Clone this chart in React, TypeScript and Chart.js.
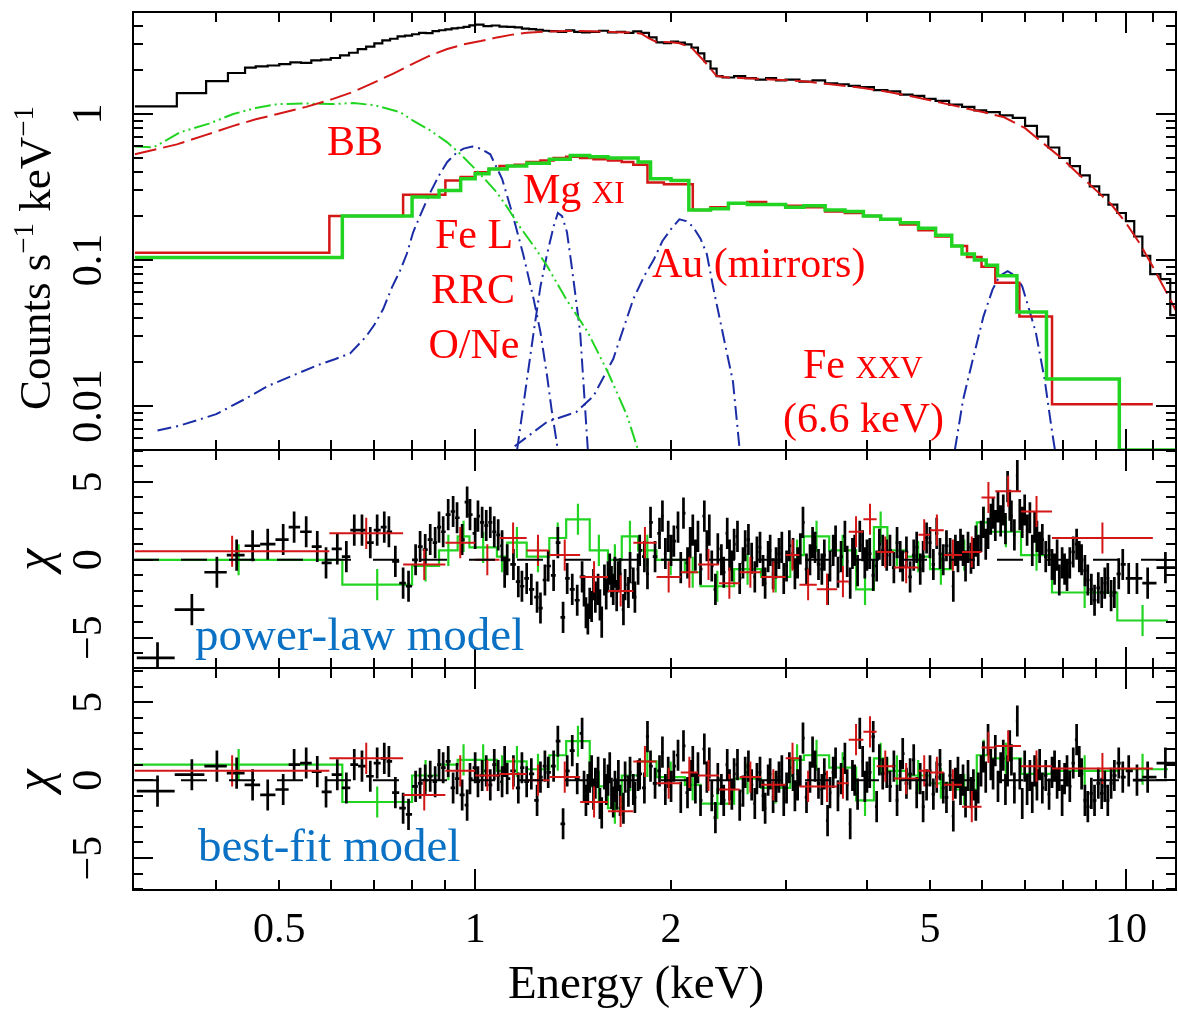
import React, { useEffect, useRef } from "react";
import { Chart, registerables } from "chart.js";

Chart.register(...registerables);

// ---------------- axis ranges ----------------
const energyRange = [0.298, 11.94];
const countsRange = [0.005, 5];
const chiRangePL = [-6.95, 7.05];
const chiRangeBest = [-7.05, 7.2];

// ---------------- tick labels ----------------
const xTickLabels = [0.5, 1, 2, 5, 10];
const xMajorTicks = [1, 10];
const xMinorTicks = [0.4, 0.5, 0.6, 0.7, 0.8, 0.9, 2, 3, 4, 5, 6, 7, 8, 9, 11];
const countsTickLabels = ["0.01", "0.1", "1"];
const chiTickLabels = [-5, 0, 5];

// ---------------- top panel: spectra (keV, counts/s/keV) ----------------
// black spectrum: [bin lower edge, counts]
const blackSpectrum: [number, number][] = [
  [0.30, 1.13], [0.348, 1.39], [0.386, 1.68], [0.417, 1.91], [0.443, 2.08], [0.46, 2.12], [0.48, 2.15], [0.50, 2.2],
  [0.52, 2.26], [0.54, 2.24], [0.56, 2.33], [0.58, 2.36], [0.60, 2.42], [0.62, 2.52], [0.64, 2.63], [0.66, 2.78],
  [0.68, 2.9], [0.70, 3.05], [0.72, 3.2], [0.74, 3.28], [0.76, 3.4], [0.78, 3.45], [0.80, 3.52], [0.82, 3.6],
  [0.84, 3.58], [0.86, 3.7], [0.88, 3.75], [0.90, 3.8], [0.92, 3.86], [0.94, 3.9], [0.96, 3.95], [0.98, 4.05],
  [1.00, 4.1], [1.03, 4.0], [1.06, 4.04], [1.09, 3.97], [1.12, 3.95], [1.15, 3.92], [1.18, 3.85], [1.21, 3.82],
  [1.24, 3.78], [1.27, 3.72], [1.30, 3.7], [1.34, 3.66], [1.38, 3.74], [1.42, 3.66], [1.46, 3.62], [1.50, 3.66],
  [1.55, 3.72], [1.60, 3.62], [1.65, 3.66], [1.70, 3.6], [1.75, 3.68], [1.80, 3.6], [1.85, 3.35], [1.90, 3.1],
  [1.95, 3.06], [2.00, 3.14], [2.05, 3.08], [2.10, 3.0], [2.15, 2.85], [2.20, 2.6], [2.25, 2.3], [2.30, 2.05],
  [2.35, 1.82], [2.40, 1.78], [2.50, 1.82], [2.60, 1.76], [2.70, 1.72], [2.80, 1.76], [2.90, 1.7], [3.00, 1.72],
  [3.15, 1.67], [3.30, 1.7], [3.45, 1.62], [3.60, 1.6], [3.75, 1.56], [3.90, 1.53], [4.10, 1.46], [4.30, 1.43],
  [4.50, 1.36], [4.70, 1.33], [4.90, 1.27], [5.10, 1.23], [5.35, 1.16], [5.60, 1.12], [5.85, 1.06], [6.10, 1.03],
  [6.40, 0.98], [6.70, 0.94], [7.00, 0.83], [7.30, 0.7], [7.60, 0.59], [7.90, 0.5], [8.20, 0.44], [8.50, 0.38],
  [8.80, 0.32], [9.10, 0.28], [9.40, 0.24], [9.70, 0.21], [10.0, 0.185], [10.3, 0.145], [10.6, 0.107], [10.9, 0.08],
  [11.3, 0.074], [11.7, 0.042],
];

// red long-dashed model
const redModel: [number, number][] = [
  [0.30, 0.53], [0.348, 0.62], [0.386, 0.72], [0.425, 0.83], [0.46, 0.92], [0.497, 1.0], [0.55, 1.12], [0.605, 1.27],
  [0.65, 1.42], [0.70, 1.65], [0.75, 1.9], [0.80, 2.2], [0.85, 2.5], [0.906, 2.79], [0.96, 3.0], [1.02, 3.16],
  [1.08, 3.35], [1.14, 3.5], [1.2, 3.6], [1.29, 3.68], [1.38, 3.7], [1.45, 3.7], [1.55, 3.68], [1.65, 3.64],
  [1.75, 3.62], [1.8, 3.55], [1.85, 3.3], [1.9, 3.12], [2.0, 3.1], [2.06, 3.05], [2.15, 2.85], [2.25, 2.3],
  [2.35, 1.82], [2.45, 1.78], [2.6, 1.76], [2.9, 1.72], [3.2, 1.68], [3.6, 1.58], [3.9, 1.52], [4.3, 1.42],
  [4.7, 1.32], [5.1, 1.22], [5.6, 1.11], [6.1, 1.02], [6.5, 0.95], [7.0, 0.8], [7.5, 0.62], [8.0, 0.49],
  [8.5, 0.38], [9.0, 0.3], [9.5, 0.24], [10.0, 0.18], [10.5, 0.13], [11.0, 0.09], [11.5, 0.062], [11.94, 0.045],
];

// green BB component
const greenBB: [number, number][] = [
  [0.30, 0.60], [0.32, 0.59], [0.335, 0.66], [0.352, 0.75], [0.39, 0.86], [0.425, 1.0], [0.46, 1.1], [0.497, 1.17],
  [0.55, 1.18], [0.60, 1.17], [0.65, 1.19], [0.70, 1.15], [0.767, 1.03], [0.803, 0.9], [0.85, 0.78], [0.906, 0.64],
  [0.95, 0.53], [0.99, 0.44], [1.04, 0.35], [1.08, 0.29], [1.12, 0.23], [1.17, 0.17], [1.23, 0.125], [1.29, 0.091],
  [1.38, 0.054], [1.49, 0.032], [1.60, 0.017], [1.71, 0.0087], [1.78, 0.005],
];

// lower spectra (second & third instruments): bin edges and counts
const redSpecEdges = [0.3, 0.597, 0.775, 0.90, 0.95, 1.0, 1.05, 1.09, 1.15, 1.2, 1.26, 1.32, 1.38, 1.45, 1.52, 1.6, 1.68, 1.75, 1.84, 1.95, 2.05, 2.16, 2.3, 2.45, 2.62, 2.8, 3.0, 3.2, 3.45, 3.7, 3.95, 4.2, 4.5, 4.8, 5.1, 5.4, 5.7, 6.0, 6.3, 6.86, 7.7, 11.0];
const redSpecCounts = [0.112, 0.2, 0.28, 0.35, 0.37, 0.40, 0.42, 0.44, 0.45, 0.47, 0.48, 0.5, 0.51, 0.5, 0.49, 0.48, 0.47, 0.45, 0.34, 0.33, 0.33, 0.22, 0.23, 0.245, 0.25, 0.24, 0.235, 0.23, 0.215, 0.21, 0.2, 0.19, 0.175, 0.16, 0.145, 0.125, 0.105, 0.09, 0.07, 0.041, 0.0103];
const greenSpecEdges = [0.3, 0.625, 0.8, 0.88, 0.95, 1.0, 1.05, 1.12, 1.2, 1.3, 1.4, 1.5, 1.6, 1.7, 1.78, 1.86, 2.0, 2.13, 2.3, 2.45, 2.62, 2.8, 3.0, 3.2, 3.45, 3.7, 3.95, 4.2, 4.5, 4.8, 5.1, 5.4, 5.6, 5.85, 6.1, 6.35, 6.8, 7.55, 9.77, 11.94];
const greenSpecCounts = [0.104, 0.2, 0.27, 0.3, 0.36, 0.39, 0.42, 0.44, 0.46, 0.49, 0.52, 0.51, 0.5, 0.5, 0.47, 0.36, 0.35, 0.22, 0.225, 0.245, 0.24, 0.24, 0.23, 0.235, 0.22, 0.215, 0.2, 0.19, 0.18, 0.165, 0.148, 0.125, 0.11, 0.1, 0.092, 0.078, 0.044, 0.0153, 0.005];

// blue Gaussian / RRC line components
const blueFeL: [number, number][] = [
  [0.325, 0.0068], [0.35, 0.0073], [0.40, 0.0088], [0.44, 0.011], [0.48, 0.0137], [0.53, 0.0165], [0.572, 0.019],
  [0.61, 0.021], [0.643, 0.023], [0.68, 0.03], [0.70, 0.036], [0.722, 0.046], [0.745, 0.065], [0.767, 0.085],
  [0.785, 0.11], [0.803, 0.155], [0.83, 0.22], [0.853, 0.29], [0.88, 0.38], [0.906, 0.47], [0.935, 0.54], [0.96, 0.58],
  [0.99, 0.6], [1.02, 0.58], [1.055, 0.53], [1.10, 0.36], [1.14, 0.21], [1.185, 0.11], [1.23, 0.054], [1.26, 0.032],
  [1.29, 0.016], [1.31, 0.0096], [1.34, 0.005],
];
const blueMgXI: [number, number][] = [
  [1.16, 0.005], [1.2, 0.0147], [1.23, 0.032], [1.26, 0.066], [1.29, 0.11], [1.32, 0.17], [1.34, 0.21], [1.36, 0.2],
  [1.384, 0.155], [1.41, 0.085], [1.45, 0.032], [1.49, 0.005],
];
const blueAu: [number, number][] = [
  [1.15, 0.0053], [1.29, 0.0078], [1.43, 0.0091], [1.52, 0.0117], [1.6, 0.018], [1.63, 0.021], [1.69, 0.034],
  [1.75, 0.054], [1.82, 0.078], [1.88, 0.10], [1.94, 0.135], [2.0, 0.163], [2.06, 0.19], [2.11, 0.185], [2.16, 0.17],
  [2.22, 0.14], [2.27, 0.11], [2.32, 0.066], [2.40, 0.032], [2.49, 0.0147], [2.55, 0.005],
];
const blueFeXXV: [number, number][] = [
  [5.46, 0.005], [5.62, 0.011], [5.82, 0.021], [6.04, 0.041], [6.24, 0.063], [6.4, 0.078], [6.58, 0.084], [6.77, 0.078],
  [6.93, 0.066], [7.1, 0.046], [7.27, 0.032], [7.5, 0.0153], [7.7, 0.0067], [7.78, 0.005],
];

// ---------------- residuals ----------------
// black: [E, chi (power-law), chi (best-fit)]
const blackResSoft: [number, number, number][] = [
  [0.325, -6.3, -0.7], [0.367, -3.2, 0.35], [0.401, -0.8, 0.9], [0.43, 0.3, 0.45], [0.455, 0.9, -0.3], [0.48, 1.0, -0.95],
  [0.507, 1.3, -0.6], [0.527, 2.1, 1.0], [0.55, 1.8, 1.1], [0.572, 0.85, 0.55], [0.59, -0.2, -0.75], [0.614, 0.7, 0.35],
  [0.634, 0.2, -0.5], [0.652, 1.9, 1.0], [0.67, 1.9, 0.9], [0.69, 1.1, 0.25], [0.707, 1.9, 1.1], [0.725, 2.1, 1.4],
  [0.737, 1.8, 1.2], [0.754, -0.1, -0.8], [0.775, -1.5, -1.8], [0.79, -1.7, -2.2], [0.81, 0.0, -0.4], [0.823, 0.85, -0.2],
  [0.838, 0.65, 0.0], [0.853, 1.3, 0.25], [0.868, 1.1, -0.1], [0.88, 2.1, 1.0], [0.893, 1.8, 0.8], [0.909, 2.9, 1.2],
  [0.925, 3.1, -0.5], [0.938, 2.7, 0.1], [0.955, 1.3, -0.95], [0.972, 3.7, -1.6], [0.982, 2.9, 0.1],
];
const blackResMid: [number, number, number][] = [
  [1.0, 1.7, 0.8], [1.01, 2.8, -0.1], [1.025, 2.4, 0.3], [1.04, 2.2, 0.6], [1.055, 2.4, -0.3], [1.07, 1.8, 1.0],
  [1.085, 1.6, 0.3], [1.1, 0.9, -0.1], [1.11, -0.8, 1.2], [1.12, 0.0, 0.1], [1.145, -0.3, 0.6], [1.165, -1.4, -0.5],
  [1.18, -1.7, 0.8], [1.2, -1.2, -0.1], [1.22, -1.9, 0.4], [1.245, -2.4, -1.3], [1.26, -3.1, 0.2], [1.28, -1.3, 0.9],
  [1.295, -0.4, 0.5], [1.32, -1.0, 0.9], [1.34, 1.1, 2.5], [1.365, -3.7, -2.8], [1.385, -1.2, 0.6], [1.41, -1.9, 1.9],
  [1.435, -2.6, 0.1], [1.46, -1.1, 3.0], [1.47, -2.0, -0.4], [1.48, -3.4, -1.3], [1.49, -3.8, -0.6], [1.5, -2.8, 0.2],
  [1.51, -3.0, 0.6], [1.52, -1.6, -0.9], [1.53, -2.4, -0.2], [1.545, -1.9, 0.5], [1.555, -2.9, -1.5], [1.565, -4.0, -2.1],
  [1.58, -1.3, 0.4], [1.59, -2.2, -0.6], [1.6, -1.1, 0.0], [1.61, -0.6, 0.8], [1.62, -1.4, -0.85], [1.63, -1.9, -1.4],
  [1.64, -0.8, -0.4], [1.65, -2.3, -0.9], [1.66, -1.1, 0.3], [1.67, -0.9, -1.3], [1.69, -3.2, -1.8], [1.70, -1.6, 0.2],
  [1.72, -2.1, -0.7], [1.73, -0.5, 0.5], [1.75, -1.5, -0.6], [1.76, -2.4, -1.1], [1.78, -0.6, 0.3],
];
const blackResHard: [number, number, number][] = [
  [1.79, 0.6, 0.4], [1.82, 0.2, -0.5], [1.84, -0.9, 2.8], [1.86, 2.4, 0.9], [1.89, 0.2, -0.2], [1.92, 1.7, 0.6],
  [1.94, 2.8, 1.8], [1.96, 0.4, -0.6], [1.98, 1.5, 0.5], [2.0, 0.6, -0.4], [2.02, 1.2, 0.9], [2.05, 2.1, 1.6],
  [2.07, -0.5, -1.1], [2.09, 3.0, 2.2], [2.12, -0.2, -0.8], [2.14, 1.1, 0.3], [2.16, 1.9, 1.2], [2.18, 0.3, -0.5],
  [2.2, 1.5, 0.8], [2.22, -0.6, -1.3], [2.25, 2.8, 2.0], [2.27, 0.9, 0.2], [2.29, 1.9, 1.1], [2.31, -0.4, -1.0],
  [2.34, -1.9, -2.4], [2.36, 0.7, 0.1], [2.39, 0.0, -0.6], [2.41, -0.8, -1.3], [2.44, 1.7, 1.0], [2.46, 0.3, -0.3],
  [2.48, -0.4, -0.9], [2.5, 1.0, 0.4], [2.53, 1.5, 1.0], [2.55, -1.2, -1.6], [2.58, -0.2, -0.7], [2.6, 0.9, 0.5],
  [2.63, 1.3, 0.9], [2.66, 0.1, -0.3], [2.69, -1.1, -1.5], [2.71, 0.5, 0.1], [2.74, 0.8, 0.5], [2.77, -0.7, -1.0],
  [2.79, -1.5, -1.8], [2.82, 0.2, 0.0], [2.84, 0.6, 0.4], [2.87, -0.9, -1.1], [2.9, -0.2, -0.4], [2.93, 0.4, 0.2],
  [2.96, 0.8, 0.6], [2.98, -1.2, -1.3], [3.01, -0.4, -0.5], [3.04, 0.9, 0.8], [3.08, 0.4, 0.3], [3.1, -0.9, -1.0],
  [3.13, -0.2, -0.3], [3.16, 0.7, 0.6], [3.19, 2.4, 2.7], [3.23, -0.6, -1.1], [3.27, 0.0, 0.2], [3.3, 1.1, 1.8],
  [3.33, 0.8, 0.9], [3.37, -0.3, -0.2], [3.41, -0.6, -0.6], [3.44, 0.3, 0.4], [3.48, -1.9, -2.6], [3.51, -0.4, -0.8],
  [3.55, 0.6, 0.5], [3.58, 1.2, 1.1], [3.61, -0.8, -1.0], [3.65, 0.2, 0.1], [3.7, 1.5, 1.4], [3.73, -0.1, -0.3],
  [3.77, -1.5, -2.8], [3.8, 0.4, 0.3], [3.83, 0.6, 0.0], [3.87, -0.7, -0.9], [3.9, 1.5, 3.0], [3.94, 0.9, 1.2],
  [3.97, -0.2, -0.4], [4.0, 0.3, 0.2], [4.04, 0.4, 0.5], [4.09, -1.0, 2.8], [4.14, -0.4, -1.7], [4.18, 1.0, 1.3],
  [4.23, 0.6, 0.4],
];
const blackResFe: [number, number, number][] = [
  [4.29, 0.3, 0.5], [4.34, 0.6, -0.4], [4.4, -0.5, 0.9], [4.45, 1.1, -1.3], [4.5, 0.2, 0.3], [4.54, -0.4, 1.7],
  [4.6, 0.5, -0.2], [4.66, -1.1, 0.4], [4.72, 0.3, 1.3], [4.77, 0.8, -0.8], [4.83, -0.6, 0.1], [4.88, 0.2, -1.7],
  [4.94, 1.4, -0.3], [5.0, 1.1, 0.6], [5.06, -0.3, -0.9], [5.12, 1.7, 0.2], [5.18, 0.4, 1.0], [5.24, 0.0, -0.5],
  [5.3, 0.9, -1.1], [5.37, 0.4, 0.3], [5.43, -1.7, -2.3], [5.47, 0.6, -0.2], [5.52, 0.2, 0.5], [5.57, 1.0, -0.6],
  [5.62, 0.6, 0.0], [5.67, -0.4, -1.4], [5.72, 0.8, 0.3], [5.78, 0.1, -0.8], [5.83, 0.4, -0.3], [5.88, 1.2, -1.6],
  [5.93, 0.6, -0.5], [5.99, 1.5, 0.6], [6.04, 2.4, 1.5], [6.09, 1.0, 0.2], [6.14, 1.7, 2.6], [6.2, 2.6, 1.0],
  [6.25, 3.0, 0.4], [6.3, 2.2, 1.9], [6.36, 3.4, -0.4], [6.42, 2.5, 0.8], [6.48, 3.2, 1.6], [6.53, 2.0, -0.6],
  [6.58, 4.7, 0.6], [6.63, 3.5, 2.2], [6.67, 2.8, 1.3], [6.74, 1.6, -0.5], [6.81, 5.4, 3.8], [6.87, 2.9, 0.4],
  [6.93, 2.4, -1.5], [6.99, 3.2, 0.9], [7.05, 1.9, -0.6], [7.12, 2.7, 0.3], [7.18, 0.6, -1.1], [7.24, 2.1, 0.6],
  [7.3, 1.5, -0.3], [7.37, 0.8, 1.0], [7.44, 1.3, -0.5], [7.53, 0.2, 0.3], [7.62, 0.6, -0.9], [7.7, -0.3, 0.5],
  [7.77, -0.6, 0.9], [7.84, 0.3, -0.2], [7.9, -1.3, 0.3], [7.98, -0.2, -1.3], [8.05, -0.6, 0.1], [8.12, -1.0, 0.6],
  [8.2, -0.2, -0.4], [8.3, 0.5, 1.1], [8.4, 1.0, 2.6], [8.48, 0.2, 1.2], [8.55, 0.0, 0.4], [8.65, -0.7, -1.3],
  [8.74, -1.3, -1.7], [8.85, -1.9, -0.85], [8.95, -2.6, -1.3], [9.07, -1.8, -0.2], [9.18, -2.1, -0.85], [9.28, -1.5, -0.4],
  [9.38, -1.2, -1.3], [9.49, -2.3, -0.2], [9.6, -2.1, 0.3], [9.75, -0.9, 1.1], [9.89, -0.3, 0.2], [10.1, -1.2, 0.6],
  [10.4, -1.2, 0.0], [10.8, -1.5, 0.2], [11.5, -0.5, 1.1],
];
const blackFirstBinLow = 0.302;

// red & green residuals: contiguous bins
const redResEdges = [0.30, 0.597, 0.775, 0.90, 1.0, 1.09, 1.2, 1.3, 1.45, 1.6, 1.75, 1.9, 2.07, 2.2, 2.37, 2.55, 2.75, 3.0, 3.15, 3.35, 3.6, 3.75, 3.95, 4.14, 4.4, 4.8, 5.0, 5.25, 5.6, 6.0, 6.3, 6.9, 7.7, 11.0];
const redChiPL = [0.55, 1.7, -0.3, 1.1, 0.0, 1.4, 0.6, 0.3, -1.1, -2.0, 1.1, -1.1, -0.8, -0.3, -1.5, -0.8, -1.1, 0.3, -1.6, -1.9, -1.4, 1.8, 2.6, 0.5, -0.5, 1.6, 1.9, 0.3, 0.5, 4.0, 4.4, 3.1, 1.4];
const redChiBest = [0.6, 1.4, -0.95, 0.6, 0.3, 0.4, 0.0, 0.2, -1.4, -2.0, 1.2, -0.2, 0.5, 0.3, -0.6, 0.2, -0.3, 1.4, -0.4, -0.4, -0.2, 2.6, 3.1, 0.9, 0.1, 0.6, 0.5, -0.3, -1.7, 2.1, 2.2, 0.9, 0.75];
const greenResEdges = [0.30, 0.625, 0.8, 0.88, 0.94, 0.98, 1.08, 1.12, 1.2, 1.3, 1.38, 1.5, 1.6, 1.68, 1.78, 1.9, 2.1, 2.22, 2.5, 2.75, 3.05, 3.2, 3.5, 3.85, 4.1, 4.3, 4.6, 5.0, 5.4, 5.9, 6.2, 6.9, 7.7, 9.7, 11.6];
const greenChiPL = [0.0, -1.6, -0.4, 0.6, 1.5, 0.8, 0.2, 1.1, 0.2, 1.4, 2.6, 0.6, 0.0, 1.5, 0.6, 0.0, -0.8, -1.7, -0.6, -1.1, 0.3, 1.5, 0.6, -1.9, 2.1, 0.6, 0.2, -0.6, 0.3, 2.4, 1.8, 0.3, -2.1, -3.9];
const greenChiBest = [1.0, -1.4, 0.3, 1.0, 1.3, 1.3, 0.6, 1.2, 0.7, 1.6, 2.5, -0.4, -1.8, 0.3, 1.2, 0.2, -0.3, -1.5, 0.1, -0.5, 1.3, 1.6, 0.8, -1.3, 1.4, 0.6, 0.3, -0.2, -0.6, 1.6, 1.4, 0.4, 0.6, 0.7];
const chiError = 1;

// ---------------- styling ----------------
const SERIF = '"Liberation Serif", "Times New Roman", serif';
const RED = "#d31616";
const GREEN = "#22d422";
const BLUE = "#1b2da6";
const TEXT_RED = "#ff0000";
const TEXT_BLUE = "#0a71c4";

// ---------------- helpers to build line data ----------------
type P = { x: number; y: number };
const GAP: P = { x: NaN, y: NaN };

function stepsFromEdges(edges: number[], vals: number[]): P[] {
  const out: P[] = [];
  for (let i = 0; i < vals.length; i++) {
    out.push({ x: edges[i], y: vals[i] }, { x: edges[i + 1], y: vals[i] });
  }
  return out;
}
function stepsFromRows(rows: [number, number][], end: number): P[] {
  return stepsFromEdges(rows.map((r) => r[0]).concat([end]), rows.map((r) => r[1]));
}
function curve(rows: [number, number][]): P[] {
  return rows.map(([x, y]) => ({ x, y }));
}
function binErrorBars(edges: number[], vals: number[]): P[] {
  const out: P[] = [];
  for (let i = 0; i < vals.length; i++) {
    const c = Math.sqrt(edges[i] * edges[i + 1]);
    out.push({ x: c, y: vals[i] - chiError }, { x: c, y: vals[i] + chiError }, GAP);
  }
  return out;
}
function binCrosses(edges: number[], vals: number[]): P[] {
  const out: P[] = [];
  for (let i = 0; i < vals.length; i++) {
    const c = Math.sqrt(edges[i] * edges[i + 1]);
    out.push({ x: edges[i], y: vals[i] }, { x: edges[i + 1], y: vals[i] }, GAP);
    out.push({ x: c, y: vals[i] - chiError }, { x: c, y: vals[i] + chiError }, GAP);
  }
  return out;
}
function crosses(rows: [number, number, number][], col: 1 | 2, lo0: number, hiN: number): P[] {
  const out: P[] = [];
  for (let i = 0; i < rows.length; i++) {
    const e = rows[i][0];
    const v = rows[i][col];
    const lo = i === 0 ? lo0 : Math.sqrt(rows[i - 1][0] * e);
    const hi = i === rows.length - 1 ? hiN : Math.sqrt(e * rows[i + 1][0]);
    out.push({ x: lo, y: v }, { x: hi, y: v }, GAP, { x: e, y: v - chiError }, { x: e, y: v + chiError }, GAP);
  }
  return out;
}

function ds(data: P[], yAxisID: string, color: string, width: number, order: number, dash: number[] = []) {
  return {
    data,
    yAxisID,
    xAxisID: "x",
    borderColor: color,
    backgroundColor: color,
    borderWidth: width,
    borderDash: dash,
    borderCapStyle: "butt",
    borderJoinStyle: "miter",
    pointRadius: 0,
    pointHoverRadius: 0,
    fill: false,
    tension: 0,
    spanGaps: false,
    order,
    clip: 0,
  };
}

type Part = { t: string; size: number; dy: number; style?: string };
function drawRich(ctx: CanvasRenderingContext2D, parts: Part[], x: number, y: number, align: "left" | "center") {
  let total = 0;
  for (const p of parts) {
    ctx.font = `${p.style || ""} ${p.size}px ${SERIF}`;
    total += ctx.measureText(p.t).width;
  }
  let cx = align === "center" ? x - total / 2 : x;
  ctx.textAlign = "left";
  ctx.textBaseline = "alphabetic";
  for (const p of parts) {
    ctx.font = `${p.style || ""} ${p.size}px ${SERIF}`;
    ctx.fillText(p.t, cx, y + p.dy);
    cx += ctx.measureText(p.t).width;
  }
}

const decorPlugin = {
  id: "decor",
  afterDatasetsDraw(chart: any) {
    const ctx: CanvasRenderingContext2D = chart.ctx;
    const xs = chart.scales.x;
    const yT = chart.scales.yTop;
    const yM = chart.scales.yMid;
    const yB = chart.scales.yBot;
    const L = xs.left;
    const R = xs.right;
    ctx.save();
    ctx.strokeStyle = "#000";
    ctx.lineWidth = 2;
    ctx.lineCap = "butt";
    const seg = (x1: number, y1: number, x2: number, y2: number) => {
      ctx.beginPath();
      ctx.moveTo(x1, y1);
      ctx.lineTo(x2, y2);
      ctx.stroke();
    };
    const allX = xMajorTicks.concat(xMinorTicks);
    for (const s of [yT, yM, yB]) {
      ctx.strokeRect(L, s.top, R - L, s.bottom - s.top);
      for (const v of allX) {
        const px = Math.round(xs.getPixelForValue(v));
        const len = xMajorTicks.includes(v) ? 21 : 10;
        seg(px, s.top, px, s.top + len);
        seg(px, s.bottom, px, s.bottom - len);
      }
    }
    // top panel y ticks
    for (const d of [0.001, 0.01, 0.1, 1]) {
      for (let k = 1; k <= 9; k++) {
        const v = d * k;
        if (v <= countsRange[0] * 1.0001 || v >= countsRange[1] * 0.9999) continue;
        const py = Math.round(yT.getPixelForValue(v));
        const len = k === 1 ? 20 : 10;
        seg(L, py, L + len, py);
        seg(R, py, R - len, py);
      }
    }
    // residual y ticks
    for (const s of [yM, yB]) {
      for (let v = -7; v <= 7; v++) {
        if (v <= s.min || v >= s.max) continue;
        const py = Math.round(s.getPixelForValue(v));
        const len = v % 5 === 0 ? 20 : 10;
        seg(L, py, L + len, py);
        seg(R, py, R - len, py);
      }
    }
    ctx.restore();
  },
  afterDraw(chart: any) {
    const ctx: CanvasRenderingContext2D = chart.ctx;
    const xs = chart.scales.x;
    const yT = chart.scales.yTop;
    const yM = chart.scales.yMid;
    const yB = chart.scales.yBot;
    ctx.save();
    ctx.fillStyle = "#000";
    // x tick labels
    ctx.font = `42px ${SERIF}`;
    ctx.textAlign = "center";
    ctx.textBaseline = "alphabetic";
    for (const v of xTickLabels) ctx.fillText(String(v), xs.getPixelForValue(v), 942);
    ctx.font = `47px ${SERIF}`;
    ctx.fillText("Energy (keV)", 636, 998);

    const rotText = (parts: Part[], x: number, y: number) => {
      ctx.save();
      ctx.translate(x, y);
      ctx.rotate(-Math.PI / 2);
      drawRich(ctx, parts, 0, 0, "center");
      ctx.restore();
    };
    for (const t of countsTickLabels) rotText([{ t, size: 42, dy: 0 }], 101, yT.getPixelForValue(parseFloat(t)));
    for (const s of [yM, yB]) {
      for (const v of chiTickLabels) rotText([{ t: v < 0 ? "\u2212" + Math.abs(v) : String(v), size: 42, dy: 0 }], 101, s.getPixelForValue(v));
      rotText([{ t: "\u03c7", size: 50, dy: 0, style: "italic" }], 50, s.getPixelForValue(0));
    }
    rotText(
      [
        { t: "Counts s", size: 45, dy: 0 },
        { t: "\u22121", size: 29, dy: -17 },
        { t: " keV", size: 45, dy: 0 },
        { t: "\u22121", size: 29, dy: -17 },
      ],
      50,
      258
    );

    // annotations
    ctx.fillStyle = TEXT_RED;
    ctx.textAlign = "center";
    ctx.font = `42px ${SERIF}`;
    ctx.fillText("BB", 355, 155);
    ctx.fillText("Fe L", 474, 248);
    ctx.fillText("RRC", 473, 303);
    ctx.fillText("O/Ne", 474, 358);
    drawRich(ctx, [{ t: "Mg ", size: 42, dy: 0 }, { t: "XI", size: 31, dy: 0 }], 523, 203, "left");
    drawRich(ctx, [{ t: "Au (mirrors)", size: 42, dy: 0 }], 652, 277, "left");
    drawRich(ctx, [{ t: "Fe ", size: 42, dy: 0 }, { t: "XXV", size: 31, dy: 0 }], 803, 378, "left");
    drawRich(ctx, [{ t: "(6.6 keV)", size: 42, dy: 0 }], 783, 432, "left");

    ctx.fillStyle = TEXT_BLUE;
    drawRich(ctx, [{ t: "power-law model", size: 47, dy: 0 }], 195, 650, "left");
    drawRich(ctx, [{ t: "best-fit model", size: 47, dy: 0 }], 198, 861, "left");
    ctx.restore();
  },
};

export default function App() {
  const ref = useRef<HTMLCanvasElement>(null);
  useEffect(() => {
    const canvas = ref.current;
    if (!canvas) return;
    const blackRes = blackResSoft.concat(blackResMid, blackResHard, blackResFe);
    const zero: P[] = [{ x: energyRange[0], y: 0 }, { x: energyRange[1], y: 0 }];
    const datasets: any[] = [
      // top panel
      ds(curve(redModel), "yTop", RED, 2, 1, [22, 7]),
      ds(stepsFromRows(blackSpectrum, energyRange[1]), "yTop", "#000", 2.2, 2),
      ds(curve(greenBB), "yTop", GREEN, 2, 3, [16, 4, 2, 4, 2, 4]),
      ds(stepsFromEdges(greenSpecEdges, greenSpecCounts), "yTop", GREEN, 3.5, 4),
      ds(stepsFromEdges(redSpecEdges, redSpecCounts), "yTop", RED, 2.5, 5),
      ds(curve(blueFeL), "yTop", BLUE, 2, 6, [14, 5, 2, 5]),
      ds(curve(blueMgXI), "yTop", BLUE, 2, 6, [14, 5, 2, 5]),
      ds(curve(blueAu), "yTop", BLUE, 2, 6, [14, 5, 2, 5]),
      ds(curve(blueFeXXV), "yTop", BLUE, 2, 6, [14, 5, 2, 5]),
      // middle panel (power-law)
      ds(zero, "yMid", "#000", 2, 0, [26, 22]),
      ds(binCrosses(redResEdges, redChiPL), "yMid", RED, 2, 1),
      ds(crosses(blackRes, 1, blackFirstBinLow, energyRange[1]), "yMid", "#000", 2.7, 2),
      ds(stepsFromEdges(greenResEdges, greenChiPL), "yMid", GREEN, 2.2, 3),
      ds(binErrorBars(greenResEdges, greenChiPL), "yMid", GREEN, 2.2, 3),
      // bottom panel (best-fit)
      ds(zero, "yBot", "#000", 2, 0, [26, 22]),
      ds(binCrosses(redResEdges, redChiBest), "yBot", RED, 2, 1),
      ds(crosses(blackRes, 2, blackFirstBinLow, energyRange[1]), "yBot", "#000", 2.7, 2),
      ds(stepsFromEdges(greenResEdges, greenChiBest), "yBot", GREEN, 2.2, 3),
      ds(binErrorBars(greenResEdges, greenChiBest), "yBot", GREEN, 2.2, 3),
    ];
    const hidden = {
      grid: { display: false, drawTicks: false },
      border: { display: false },
      ticks: { display: false },
      title: { display: false },
    };
    const chart = new Chart(canvas, {
      type: "line",
      data: { datasets },
      options: {
        responsive: false,
        animation: false,
        devicePixelRatio: 1,
        events: [],
        layout: { padding: { left: 133, right: 2, top: 12, bottom: 120 } },
        plugins: { legend: { display: false }, tooltip: { enabled: false } },
        scales: {
          x: { type: "logarithmic", position: "bottom", min: energyRange[0], max: energyRange[1], ...hidden },
          yBot: { type: "linear", position: "left", stack: "panels", stackWeight: 222, min: chiRangeBest[0], max: chiRangeBest[1], offset: false, ...hidden },
          yMid: { type: "linear", position: "left", stack: "panels", stackWeight: 218, min: chiRangePL[0], max: chiRangePL[1], offset: false, ...hidden },
          yTop: { type: "logarithmic", position: "left", stack: "panels", stackWeight: 438, min: countsRange[0], max: countsRange[1], offset: false, ...hidden },
        },
      } as any,
      plugins: [decorPlugin],
    });
    return () => chart.destroy();
  }, []);
  return (
    <div style={{ position: "absolute", left: 0, top: 0, width: 1178, height: 1010, background: "#fff" }}>
      <canvas ref={ref} width={1178} height={1010} style={{ display: "block", width: 1178, height: 1010 }} />
    </div>
  );
}
